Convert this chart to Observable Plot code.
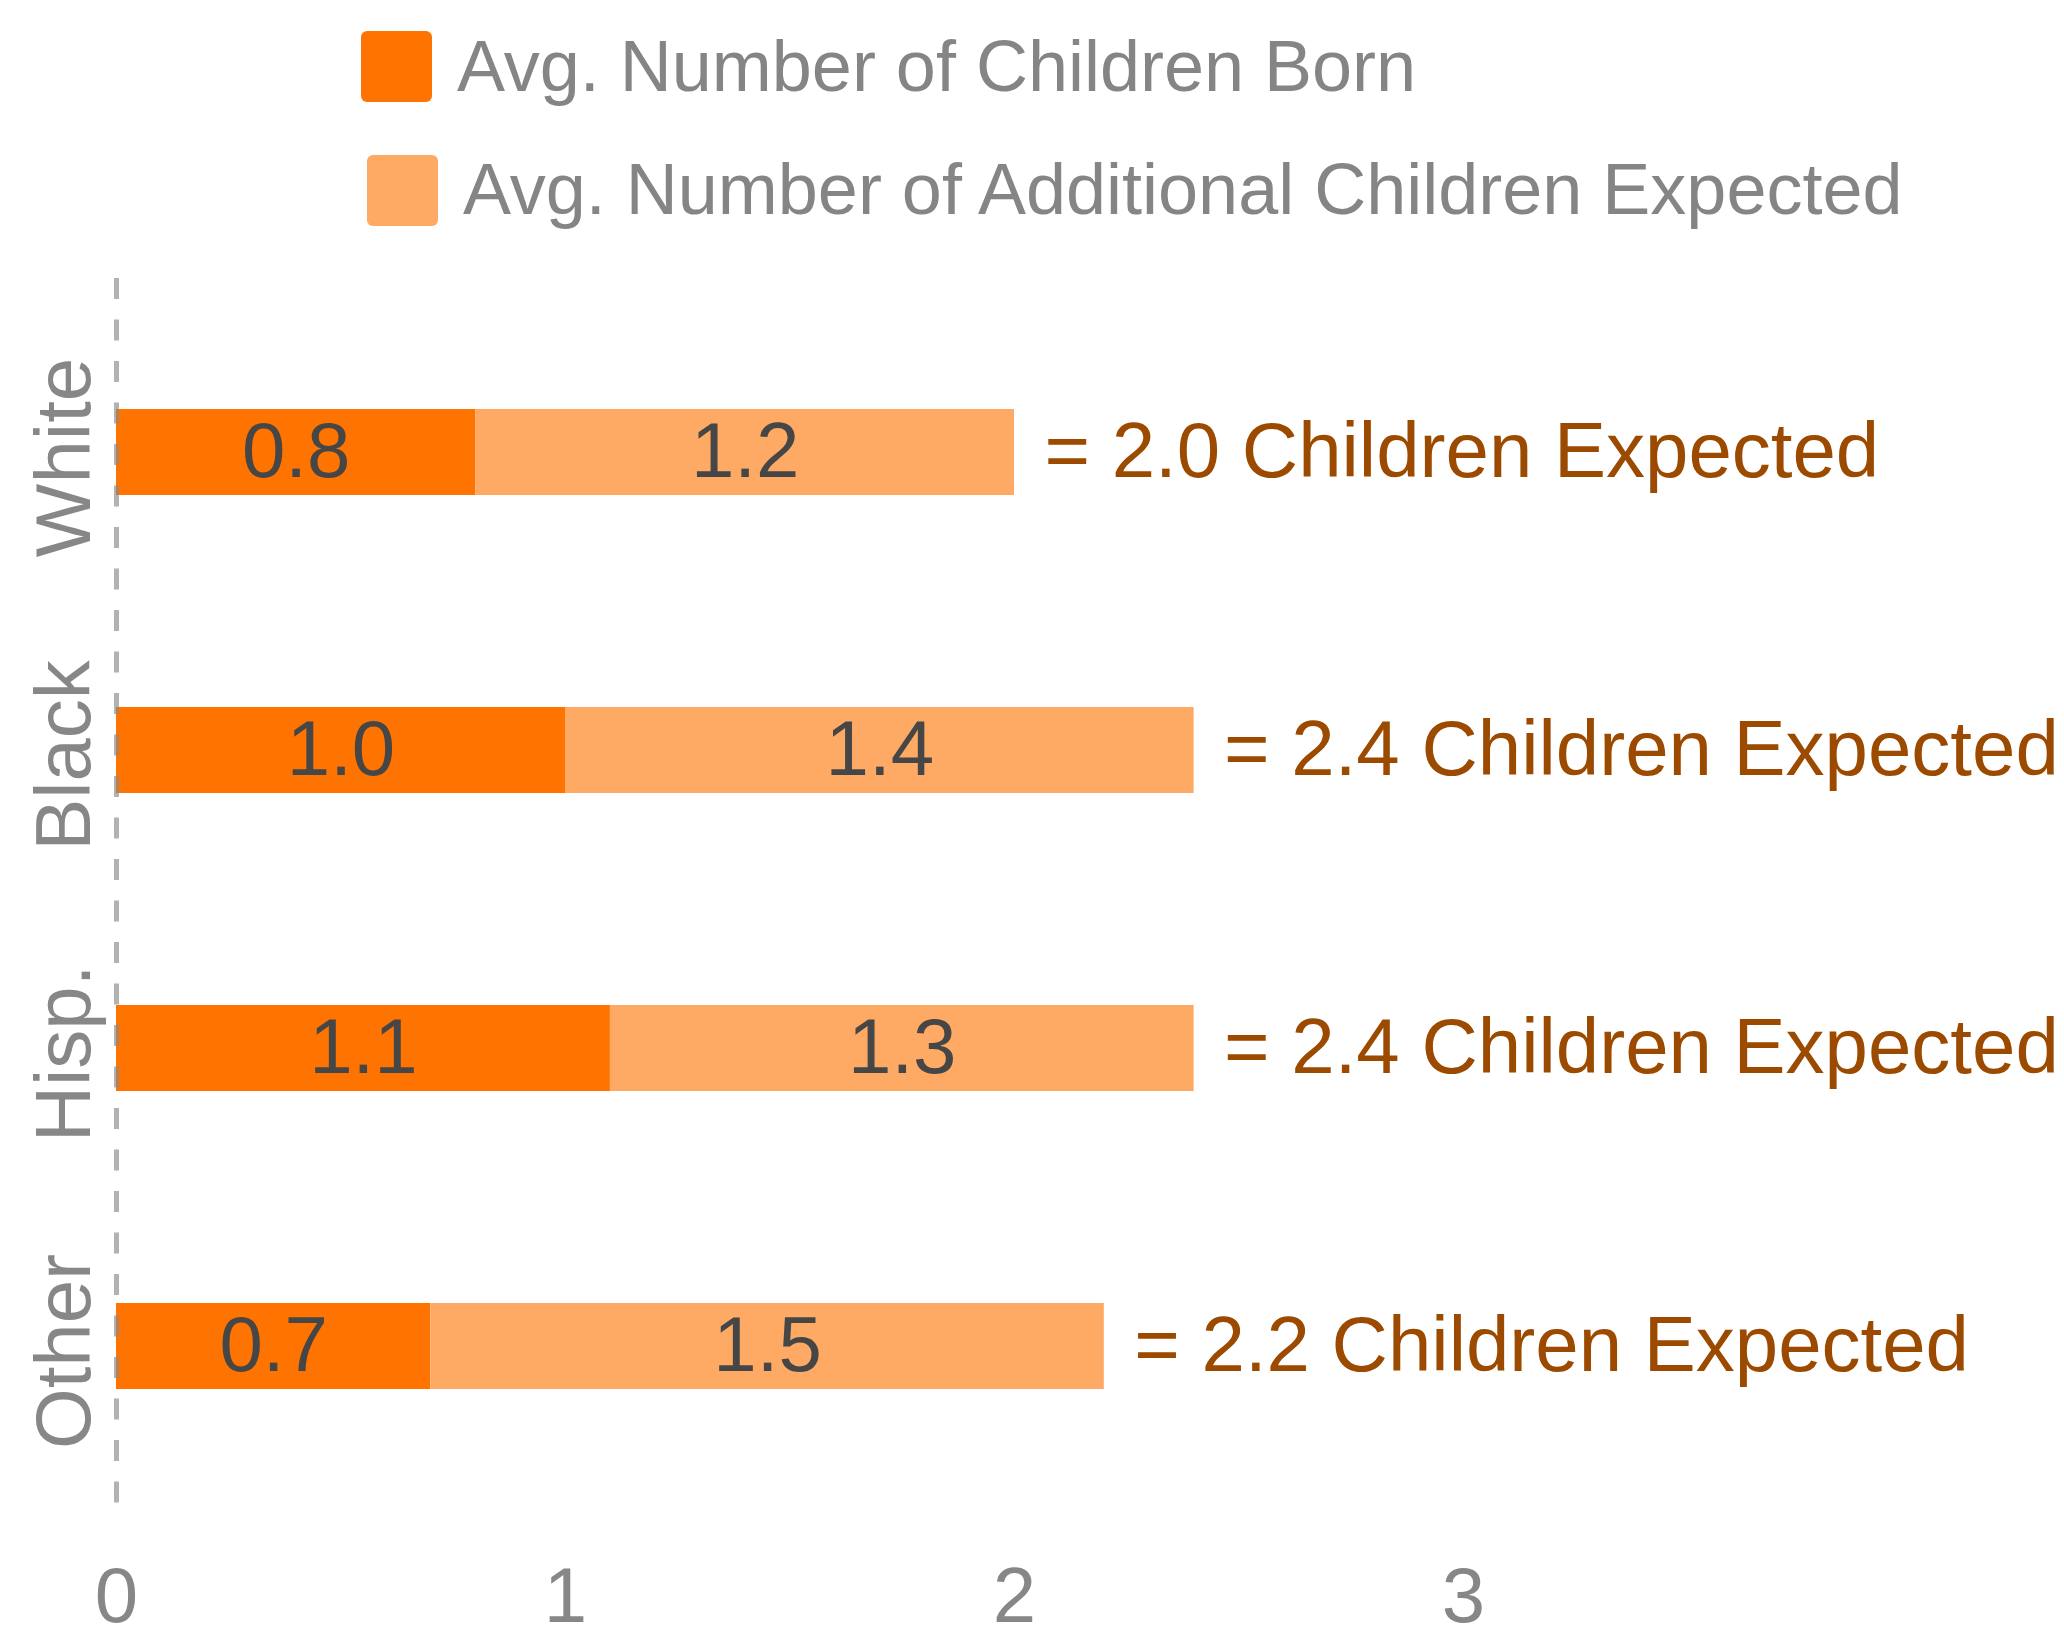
<!DOCTYPE html>
<html>
<head>
<meta charset="utf-8">
<script src="https://cdn.jsdelivr.net/npm/d3@7"></script>
<script src="https://cdn.jsdelivr.net/npm/@observablehq/plot@0.6"></script>
<style>
  html, body { margin: 0; padding: 0; background: #fff; }
  #wrap { position: relative; width: 2064px; height: 1628px; font-family: "Liberation Sans", Arial, sans-serif; }
  #chart { position: absolute; left: 0; top: 0; }
  .lg-sw { position: absolute; width: 71px; height: 71px; border-radius: 6px; }
  .lg-tx { position: absolute; font-size: 72px; line-height: 72px; color: #858585; white-space: pre; }
</style>
</head>
<body>
<div id="wrap">
  <div id="chart"></div>
  <div id="legend"></div>
</div>
<script>
// ---- data ----
const categories = ["White", "Black", "Hisp.", "Other"];
const seriesNames = ["Avg. Number of Children Born", "Avg. Number of Additional Children Expected"];
const seriesColors = ["#FF7400", "#FFAA64"];
const born = [0.8, 1.0, 1.1, 0.7];
const additional = [1.2, 1.4, 1.3, 1.5];
const xTicks = [0, 1, 2, 3];

// ---- derived tables ----
const rows = [];
const totals = [];
categories.forEach((c, i) => {
  const vals = [born[i], additional[i]];
  let acc = 0;
  vals.forEach((v, j) => {
    rows.push({cat: c, series: seriesNames[j], value: v, x1: acc, x2: acc + v, mid: acc + v / 2});
    acc += v;
  });
  totals.push({cat: c, total: acc});
});

const chart = Plot.plot({
  width: 2064,
  height: 1628,
  marginLeft: 116,
  marginRight: 152,
  marginTop: 278,
  marginBottom: 107,
  style: {fontFamily: "'Liberation Sans', Arial, sans-serif", fontSize: "78px", color: "#878787", background: "transparent"},
  x: {domain: [0, 4]},
  y: {domain: categories, paddingInner: 0.71, paddingOuter: 0.44, axis: null},
  color: {domain: seriesNames, range: seriesColors},
  marks: [
    Plot.barX(rows, {x1: "x1", x2: "x2", y: "cat", fill: "series"}),
    Plot.text(rows, {x: "mid", y: "cat", text: d => d.value.toFixed(1), fill: "#464646", fontSize: 78, lineAnchor: "middle", textAnchor: "middle"}),
    Plot.ruleX([0], {stroke: "#888888", strokeOpacity: 0.65, strokeWidth: 5, strokeDasharray: "21,20.5"}),
    Plot.text(totals, {x: "total", y: "cat", text: d => `= ${d.total.toFixed(1)} Children Expected`, textAnchor: "start", lineAnchor: "middle", dx: 30, fill: "#9C4A00", fontSize: 78}),
    Plot.text(categories, {x: () => 0, y: d => d, text: d => d, rotate: -90, dx: -27, dy: 5, lineAnchor: "bottom", textAnchor: "middle", fill: "#878787", fontSize: 78}),
    Plot.axisX({ticks: xTicks, tickSize: 0, tickPadding: 45, label: null, tickFormat: d => String(d), color: "#878787"})
  ]
});
document.getElementById("chart").appendChild(chart);

// ---- legend (HTML, above the svg) ----
const legend = document.getElementById("legend");
const legendPos = [
  {sx: 361, sy: 31, tx: 457, ty: 30},
  {sx: 367, sy: 155, tx: 463, ty: 153}
];
seriesNames.forEach((name, i) => {
  const p = legendPos[i];
  const sw = document.createElement("div");
  sw.className = "lg-sw";
  sw.style.left = p.sx + "px"; sw.style.top = p.sy + "px";
  sw.style.background = seriesColors[i];
  legend.appendChild(sw);
  const tx = document.createElement("div");
  tx.className = "lg-tx";
  tx.style.left = p.tx + "px"; tx.style.top = p.ty + "px";
  tx.textContent = name;
  legend.appendChild(tx);
});
</script>
</body>
</html>
